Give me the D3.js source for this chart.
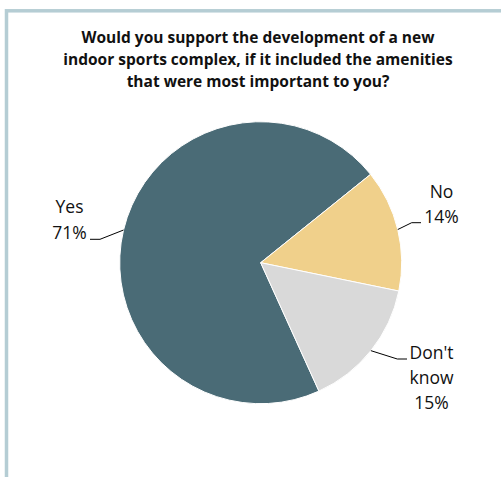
<!DOCTYPE html>
<html>
<head>
<meta charset="utf-8">
<script src="https://cdn.jsdelivr.net/npm/d3@7"></script>
<style>
  html, body { margin: 0; padding: 0; background: #fff; }
  svg { display: block; }
</style>
</head>
<body>
<svg id="chart" width="501" height="477"></svg>
<script>
// Survey responses
const categories = ["Yes", "No", "Don't know"];
const shares = [71, 14, 15];
const valueLabels = ["71%", "14%", "15%"];
const titleLines = [
  "Would you support the development of a new",
  "indoor sports complex, if it included the amenities",
  "that were most important to you?"
];

const colors = ["#4a6b76", "#f0d08b", "#d9d9d9"];
const font = "'Open Sans', 'Noto Sans', sans-serif";

const svg = d3.select("#chart");
const W = 501, H = 477;

// Frame
svg.append("rect")
  .attr("x", 6.5).attr("y", 10.8)
  .attr("width", W + 20).attr("height", H + 20)
  .attr("fill", "#fff")
  .attr("stroke", "#b5cdd4")
  .attr("stroke-width", 3.5);

// Title
svg.append("g")
  .selectAll("text")
  .data(titleLines)
  .join("text")
  .attr("x", 258)
  .attr("y", (d, i) => 43 + i * 22)
  .attr("text-anchor", "middle")
  .attr("font-family", font)
  .attr("font-weight", "bold")
  .attr("font-size", 15.5)
  .attr("fill", "#111")
  .text(d => d);

// Pie
const cx = 260.7, cy = 262.7, R = 141;
const deg = Math.PI / 180;
const pie = d3.pie().sort(null).value(d => d)
  .startAngle(155.6 * deg).endAngle(155.6 * deg + 2 * Math.PI);
const arcs = pie(shares);
const arc = d3.arc().innerRadius(0).outerRadius(R);

const g = svg.append("g").attr("transform", `translate(${cx},${cy})`);
g.selectAll("path")
  .data(arcs)
  .join("path")
  .attr("d", arc)
  .attr("fill", (d, i) => colors[i])
  .attr("stroke", "#fff")
  .attr("stroke-width", 1);

// Label layout: elbow of the leader line, end of the leader, text anchor and line baselines
const labelLayout = [
  { elbow: [100, 239.3], end: [90, 239.3], tx: 69.5, lines: [categories[0], valueLabels[0]], y0: 213, dy: 26 },
  { elbow: [411.7, 222.7], end: [421, 222.7], tx: 441.5, lines: [categories[1], valueLabels[1]], y0: 198, dy: 25 },
  { elbow: [397.3, 359], end: [407, 359], tx: 431.5, lines: ["Don't", "know", valueLabels[2]], y0: 359, dy: 25 }
];

const labels = svg.append("g");
arcs.forEach((a, i) => {
  const mid = (a.startAngle + a.endAngle) / 2;
  const p0 = [cx + R * Math.sin(mid), cy - R * Math.cos(mid)];
  const L = labelLayout[i];
  labels.append("path")
    .attr("d", d3.line()([p0, L.elbow, L.end]))
    .attr("fill", "none")
    .attr("stroke", "#000")
    .attr("stroke-width", 1);
  labels.append("g")
    .selectAll("text")
    .data(L.lines)
    .join("text")
    .attr("x", L.tx)
    .attr("y", (d, j) => L.y0 + j * L.dy)
    .attr("text-anchor", "middle")
    .attr("font-family", font)
    .attr("font-size", 17.5)
    .attr("fill", "#111")
    .text(d => d);
});
</script>
</body>
</html>
